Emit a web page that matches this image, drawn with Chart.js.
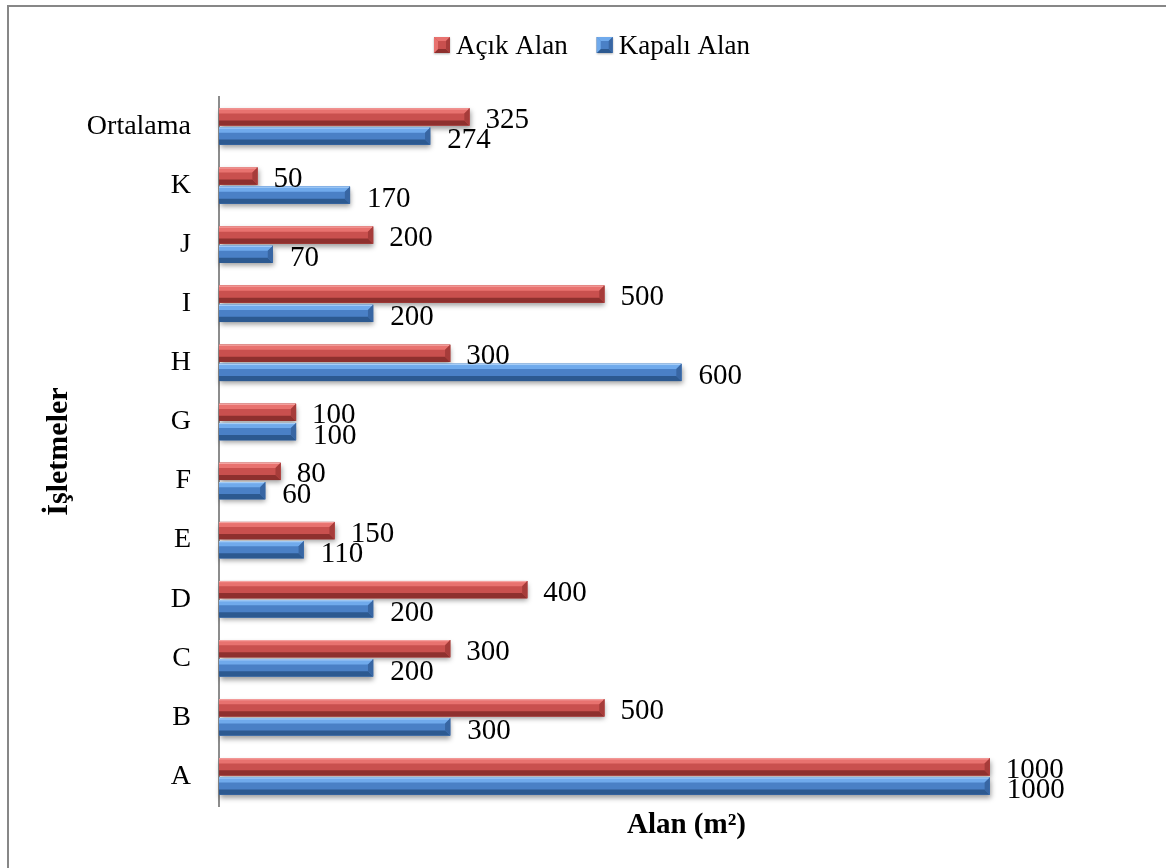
<!DOCTYPE html>
<html>
<head>
<meta charset="utf-8">
<script src="https://cdn.jsdelivr.net/npm/chart.js@4.4.1/dist/chart.umd.min.js"></script>
<style>
  html, body { margin: 0; padding: 0; background: #fff; }
  #wrap { position: relative; width: 1166px; height: 868px; }
</style>
</head>
<body>
<div id="wrap"><canvas id="c" width="1166" height="868"></canvas></div>
<script>
// Categories listed top to bottom
const categories = ['Ortalama', 'K', 'J', 'I', 'H', 'G', 'F', 'E', 'D', 'C', 'B', 'A'];
const acikAlan   = [325, 50, 200, 500, 300, 100, 80, 150, 400, 300, 500, 1000];
const kapaliAlan = [274, 170, 70, 200, 600, 100, 60, 110, 200, 200, 300, 1000];
const seriesNames = ['Açık Alan', 'Kapalı Alan'];
const xAxisTitle = 'Alan (m²)';
const yAxisTitle = 'İşletmeler';
const xMax = 1200;

const FONT = '"Liberation Serif", "Times New Roman", serif';

// Bevel shades for each series: red, blue
const palettes = [
  { base: '#c9504e', light: '#e8726f', hi: '#f5a3a1', dark: '#8e302e', end: '#a63c3a' },
  { base: '#4a80c6', light: '#70aaec', hi: '#a6cdf7', dark: '#2c5990', end: '#3866a3' }
];

// Draw a bevelled bar between (x0,y0) and (x1,y1)
function bevel(ctx, x0, y0, x1, y1, p) {
  const h = y1 - y0;
  const b = Math.min(h * 0.3, (x1 - x0) / 2);
  ctx.save();
  ctx.fillStyle = p.base;
  ctx.fillRect(x0, y0, x1 - x0, h);
  // top face
  ctx.fillStyle = p.light;
  ctx.beginPath();
  ctx.moveTo(x0, y0); ctx.lineTo(x1, y0); ctx.lineTo(x1 - b, y0 + b); ctx.lineTo(x0, y0 + b);
  ctx.closePath(); ctx.fill();
  ctx.fillStyle = p.hi;
  ctx.fillRect(x0, y0, x1 - x0 - 1, 1.2);
  // bottom face
  ctx.fillStyle = p.dark;
  ctx.beginPath();
  ctx.moveTo(x0, y1); ctx.lineTo(x1, y1); ctx.lineTo(x1 - b, y1 - b); ctx.lineTo(x0, y1 - b);
  ctx.closePath(); ctx.fill();
  // right end
  ctx.fillStyle = p.end;
  ctx.beginPath();
  ctx.moveTo(x1, y0); ctx.lineTo(x1, y1); ctx.lineTo(x1 - b, y1 - b); ctx.lineTo(x1 - b, y0 + b);
  ctx.closePath(); ctx.fill();
  ctx.restore();
}

function barRects(chart, di) {
  const meta = chart.getDatasetMeta(di);
  return meta.data.map(el => {
    const { x, y, base, height } = el.getProps(['x', 'y', 'base', 'height'], true);
    return { x0: Math.min(base, x), x1: Math.max(base, x), y0: y - height / 2, y1: y + height / 2, yc: y };
  });
}

// Small pyramid-style swatch for the legend
function legendBox(ctx, x, y, s, p) {
  const m = 4;
  ctx.save();
  ctx.fillStyle = p.base;
  ctx.fillRect(x, y, s, s);
  const poly = (pts, col) => {
    ctx.fillStyle = col; ctx.beginPath();
    ctx.moveTo(pts[0][0], pts[0][1]);
    for (let k = 1; k < pts.length; k++) ctx.lineTo(pts[k][0], pts[k][1]);
    ctx.closePath(); ctx.fill();
  };
  poly([[x, y], [x + s, y], [x + s - m, y + m], [x + m, y + m]], p.light);
  poly([[x, y + s], [x + s, y + s], [x + s - m, y + s - m], [x + m, y + s - m]], p.dark);
  poly([[x, y], [x + m, y + m], [x + m, y + s - m], [x, y + s]], p.light);
  poly([[x + s, y], [x + s, y + s], [x + s - m, y + s - m], [x + s - m, y + m]], p.end);
  ctx.restore();
}

const decorPlugin = {
  id: 'decor',
  beforeDraw(chart) {
    const ctx = chart.ctx;
    ctx.save();
    ctx.fillStyle = '#ffffff';
    ctx.fillRect(0, 0, chart.width, chart.height);
    // frame lines on top and left
    ctx.fillStyle = '#878787';
    ctx.fillRect(7, 5, chart.width - 7, 2);
    ctx.fillRect(7, 5, 2, chart.height - 5);
    ctx.restore();
  },
  beforeDatasetsDraw(chart) {
    const ctx = chart.ctx;
    for (let di = 0; di < chart.data.datasets.length; di++) {
      barRects(chart, di).forEach(r => {
        ctx.save();
        ctx.shadowColor = 'rgba(0,0,0,0.38)';
        ctx.shadowBlur = 5;
        ctx.shadowOffsetX = 1;
        ctx.shadowOffsetY = 3;
        ctx.fillStyle = '#888';
        ctx.fillRect(r.x0, r.y0, r.x1 - r.x0, r.y1 - r.y0);
        ctx.restore();
      });
    }
  },
  afterDatasetsDraw(chart) {
    const ctx = chart.ctx;
    chart.data.datasets.forEach((ds, di) => {
      barRects(chart, di).forEach(r => bevel(ctx, r.x0, r.y0, r.x1, r.y1, palettes[di]));
    });
    // value labels
    ctx.save();
    ctx.font = '29px ' + FONT;
    ctx.fillStyle = '#000';
    ctx.textAlign = 'left';
    ctx.textBaseline = 'alphabetic';
    chart.data.datasets.forEach((ds, di) => {
      barRects(chart, di).forEach((r, i) => {
        const dx = di === 0 ? 16 : 17;
        const dy = di === 0 ? 11 : 12;
        ctx.fillText(String(ds.data[i]), r.x1 + dx, r.yc + dy);
      });
    });
    ctx.restore();
  },
  afterDraw(chart) {
    const ctx = chart.ctx;
    const area = chart.chartArea;
    ctx.save();
    ctx.fillStyle = '#000';
    // axis titles
    ctx.textAlign = 'center';
    ctx.textBaseline = 'alphabetic';
    ctx.font = 'bold 29px ' + FONT;
    ctx.fillText(xAxisTitle, (area.left + area.right) / 2 + 5, 833);
    ctx.save();
    ctx.font = 'bold 30px ' + FONT;
    ctx.translate(67, (area.top + area.bottom) / 2);
    ctx.rotate(-Math.PI / 2);
    ctx.fillText(yAxisTitle, 0, 0);
    ctx.restore();
    // legend
    ctx.font = '27px ' + FONT;
    ctx.textAlign = 'left';
    let x = 434;
    const boxTop = 37, box = 16, baseY = 54;
    seriesNames.forEach((name, i) => {
      ctx.save();
      ctx.shadowColor = 'rgba(0,0,0,0.3)';
      ctx.shadowBlur = 2;
      ctx.shadowOffsetY = 1;
      ctx.fillStyle = '#888';
      ctx.fillRect(x, boxTop, box, box);
      ctx.restore();
      legendBox(ctx, x, boxTop, box, palettes[i]);
      x += box + 6;
      ctx.fillStyle = '#000';
      ctx.fillText(name, x, baseY);
      x += ctx.measureText(name).width + 29;
    });
    ctx.restore();
  }
};

new Chart(document.getElementById('c'), {
  type: 'bar',
  data: {
    labels: categories,
    datasets: [
      { label: seriesNames[0], data: acikAlan, backgroundColor: palettes[0].base, borderWidth: 0,
        barPercentage: 0.9, categoryPercentage: 0.65 },
      { label: seriesNames[1], data: kapaliAlan, backgroundColor: palettes[1].base, borderWidth: 0,
        barPercentage: 0.9, categoryPercentage: 0.65 }
    ]
  },
  options: {
    indexAxis: 'y',
    responsive: false,
    animation: false,
    devicePixelRatio: 1,
    layout: { padding: { top: 97, right: 22, left: 0, bottom: 0 } },
    plugins: { legend: { display: false }, tooltip: { enabled: false } },
    scales: {
      x: {
        min: 0, max: xMax,
        ticks: { display: false },
        grid: { display: false, drawTicks: false },
        border: { display: false },
        afterFit(s) { s.height = 62; }
      },
      y: {
        ticks: { font: { family: FONT, size: 28 }, color: '#000', padding: 28 },
        grid: { display: false, drawTicks: false },
        border: { display: true, color: '#8c8c8c', width: 2 },
        afterFit(s) { s.width = 219; }
      }
    }
  },
  plugins: [decorPlugin]
});
</script>
</body>
</html>
